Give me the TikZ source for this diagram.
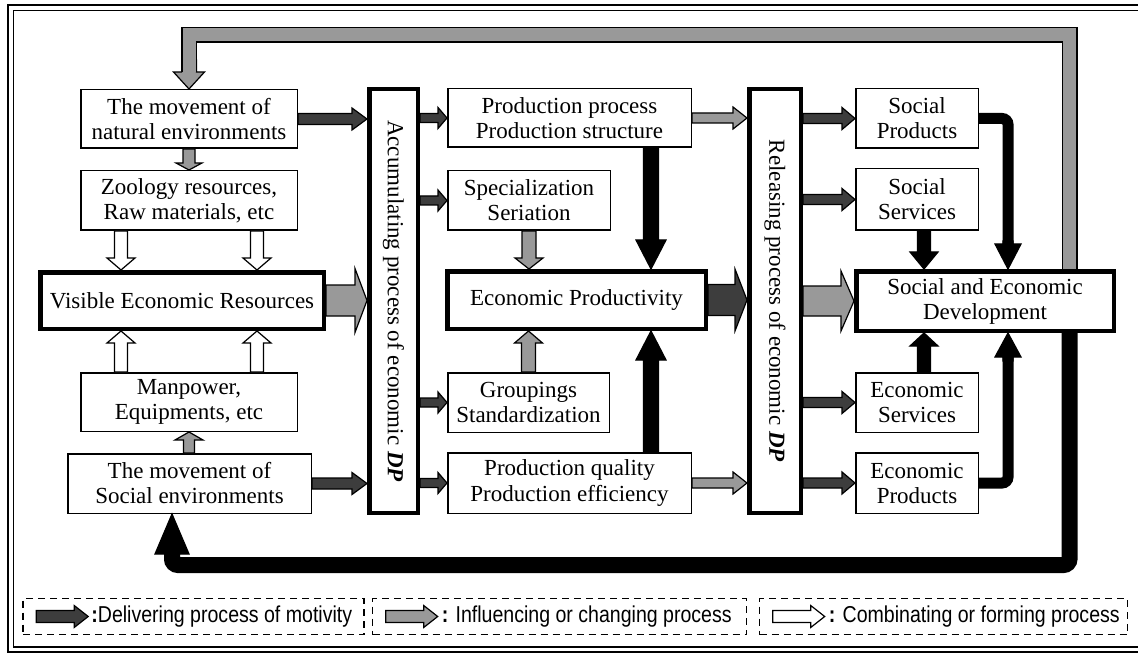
\documentclass[tikz,border=0pt]{standalone}
\usepackage{fontspec}
\setmainfont{Liberation Serif}
\newfontfamily\legfont[FakeStretch=0.85]{Liberation Sans}
\usetikzlibrary{calc}
\definecolor{dk}{gray}{0.24}
\definecolor{md}{gray}{0.6}
% #1 fill, #2 shaft half width, #3 head half width, #4 head length, #5 from, #6 to
\newcommand\blockarrow[6]{%
  \filldraw[fill=#1, line width=1.2pt, line join=miter]
    let \p1=#5, \p2=#6,
        \n1={veclen(\x2-\x1,\y2-\y1)},
        \n2={(\x2-\x1)/\n1},
        \n3={(\y2-\y1)/\n1} in
    ({\x1-\n3*#2},{\y1+\n2*#2})
    -- ({\x2-\n2*#4-\n3*#2},{\y2-\n3*#4+\n2*#2})
    -- ({\x2-\n2*#4-\n3*#3},{\y2-\n3*#4+\n2*#3})
    -- (\p2)
    -- ({\x2-\n2*#4+\n3*#3},{\y2-\n3*#4-\n2*#3})
    -- ({\x2-\n2*#4+\n3*#2},{\y2-\n3*#4-\n2*#2})
    -- ({\x1+\n3*#2},{\y1-\n2*#2}) -- cycle;}
\begin{document}
\begin{tikzpicture}[x=1pt,y=-1pt,
  box/.style={draw, line width=1.5pt, fill=white, inner sep=0pt, align=center,
    font=\fontsize{23}{25}\selectfont},
  tbox/.style={box, line width=4.5pt},
  coltext/.style={rotate=-90, inner sep=0pt, font=\fontsize{23}{25}\selectfont},
  legbox/.style={draw, dash pattern=on 7pt off 5pt, line width=1.6pt, inner sep=0pt},
  legtext/.style={anchor=west, inner sep=0pt, font=\legfont\fontsize{23}{25}\selectfont}]
\useasboundingbox (0,0) rectangle (1138,655);
\clip (0,0) rectangle (1138,655);
% frame
\draw[line width=1.5pt] (8,5) rectangle (1150,652);
\draw[line width=1.5pt] (13.5,10.5) rectangle (1150,647);

% left column
\node[box, minimum width=216.5pt, minimum height=58.5pt] (nat) at (189,119) {The movement of\\natural environments};
\node[box, minimum width=216.5pt, minimum height=59.5pt] (zoo) at (189,200.5) {Zoology resources,\\Raw materials, etc};
\node[tbox, minimum width=283.5pt, minimum height=56.5pt] (ver) at (182,300.5) {Visible Economic Resources};
\node[box, minimum width=216.5pt, minimum height=58.5pt] (man) at (189,402) {Manpower,\\Equipments, etc};
\node[box, minimum width=243.5pt, minimum height=59.5pt] (soc) at (189.5,483.5) {The movement of\\Social environments};

% accumulating column
\node[tbox, minimum width=48.5pt, minimum height=423.5pt] (acc) at (393.5,301) {};
\node[coltext] (acct) at (acc.center) {Accumulating process of economic \textbf{\textit{DP}}};

% middle column
\node[box, minimum width=243.5pt, minimum height=58.5pt] (pp) at (569.5,118) {Production process\\Production structure};
\node[box, minimum width=162.5pt, minimum height=59.5pt] (spe) at (529,200.5) {Specialization\\Seriation};
\node[tbox, minimum width=258.5pt, minimum height=57.5pt] (ecp) at (576.5,300) {Economic Productivity};
\node[box, minimum width=161.5pt, minimum height=59.5pt] (gro) at (528.5,402.5) {Groupings\\Standardization};
\node[box, minimum width=243.5pt, minimum height=60.5pt] (pq) at (569.5,483) {Production quality\\Production efficiency};

% releasing column
\node[tbox, minimum width=51.5pt, minimum height=423.5pt] (rel) at (775,301) {};
\node[coltext] (relt) at (rel.center) {Releasing process of economic \textbf{\textit{DP}}};

% right column
\node[box, minimum width=122.5pt, minimum height=59.5pt] (sp) at (917,118.5) {Social\\Products};
\node[box, minimum width=122.5pt, minimum height=61.5pt] (ss) at (917,199.5) {Social\\Services};
\node[tbox, minimum width=257.5pt, minimum height=59.5pt] (sed) at (985,301) {Social and Economic\\Development};
\node[box, minimum width=122.5pt, minimum height=59.5pt] (es) at (917,402.5) {Economic\\Services};
\node[box, minimum width=122.5pt, minimum height=60.5pt] (ep) at (917,483) {Economic\\Products};

% ---- dark (delivering) arrows
\blockarrow{dk}{5.5}{11}{15}{(nat.east)}{(nat.east -| acc.west)}
\blockarrow{dk}{5.5}{11}{15}{(soc.east)}{(soc.east -| acc.west)}
\blockarrow{dk}{4.5}{10.5}{9}{(pp.west -| acc.east)}{(pp.west)}
\blockarrow{dk}{4.5}{10.5}{9}{(spe.west -| acc.east)}{(spe.west)}
\blockarrow{dk}{4.5}{10.5}{9}{(gro.west -| acc.east)}{(gro.west)}
\blockarrow{dk}{4.5}{10.5}{9}{(pq.west -| acc.east)}{(pq.west)}
\blockarrow{dk}{5}{11}{13}{(sp.west -| rel.east)}{(sp.west)}
\blockarrow{dk}{5}{11}{13}{(ss.west -| rel.east)}{(ss.west)}
\blockarrow{dk}{5}{11}{13}{(es.west -| rel.east)}{(es.west)}
\blockarrow{dk}{5}{11}{13}{(ep.west -| rel.east)}{(ep.west)}
\blockarrow{dk}{15.5}{31}{12}{(ecp.east)}{(ecp.east -| rel.west)}

% ---- gray (influencing) arrows
\blockarrow{md}{15.5}{32}{12}{(ver.east)}{(ver.east -| acc.west)}
\blockarrow{md}{15}{30}{13}{(sed.west -| rel.east)}{(sed.west)}
\blockarrow{md}{5}{11}{14}{(pp.east)}{(pp.east -| rel.west)}
\blockarrow{md}{5}{11}{14}{(pq.east)}{(pq.east -| rel.west)}
\blockarrow{md}{6}{13}{7}{(nat.south)}{(zoo.north)}
\blockarrow{md}{5.5}{14}{8}{(soc.north -| man.south)}{(man.south)}
\blockarrow{md}{7}{14}{11}{(spe.south)}{(spe.south |- ecp.north)}
\blockarrow{md}{7}{14}{12}{(gro.north)}{(gro.north |- ecp.south)}

% ---- white (combinating) arrows
\coordinate (w1) at ([xshift=-68pt]zoo.south);
\coordinate (w2) at ([xshift=68pt]zoo.south);
\coordinate (w3) at ([xshift=-68pt]man.north);
\coordinate (w4) at ([xshift=68pt]man.north);
\blockarrow{white}{6.5}{14}{12}{(w1)}{(w1 |- ver.north)}
\blockarrow{white}{6.5}{14}{12}{(w2)}{(w2 |- ver.north)}
\blockarrow{white}{6.5}{14}{12}{(w3)}{(w3 |- ver.south)}
\blockarrow{white}{6.5}{14}{12}{(w4)}{(w4 |- ver.south)}

% ---- black arrows
\coordinate (b1) at ([xshift=81.5pt]pp.south);
\coordinate (b2) at ([xshift=81.5pt]pq.north);
\blockarrow{black}{7.5}{15}{29}{(b1)}{(b1 |- ecp.north)}
\blockarrow{black}{7.5}{15}{29}{(b2)}{(b2 |- ecp.south)}
\coordinate (b3) at ([xshift=7pt]ss.south);
\coordinate (b4) at ([xshift=7pt]es.north);
\blockarrow{black}{6.5}{14}{17}{(b3)}{(b3 |- sed.north)}
\blockarrow{black}{6.5}{14}{13}{(b4)}{(b4 |- sed.south)}

\coordinate (ex) at (1008,0);
\coordinate (t1) at (sed.north -| ex);
\coordinate (t2) at (sed.south -| ex);
\draw[line width=11pt, rounded corners=6pt] (sp.east) -| ([yshift=20pt]t1);
\blockarrow{black}{5}{13}{25}{([yshift=28pt]t1)}{(t1)}
\draw[line width=11pt, rounded corners=6pt] (ep.east) -| ([yshift=-20pt]t2);
\blockarrow{black}{5}{13}{24}{([yshift=-28pt]t2)}{(t2)}

% ---- big black loop
\coordinate (k0) at ([xshift=84.5pt]sed.south);
\coordinate (kc) at (172,565);
\coordinate (kh) at (172,556);
\draw[line width=16pt, rounded corners=6pt] (k0) |- (kc) -- (kh);
\blockarrow{black}{7.4}{17}{40}{(kh)}{(soc.south -| kc)}

% ---- big gray loop
\coordinate (g0) at ([xshift=84.5pt]sed.north);
\coordinate (gt) at (189,35);
\coordinate (gs) at (189,60);
\coordinate (gh) at (189,72);
\blockarrow{md}{7.4}{15.5}{17}{(gs)}{(nat.north -| gt)}
\draw[line width=16pt, line join=miter] (g0) |- (gt) -- (gh);
\draw[md, line width=13pt, line join=miter] (g0) |- (gt) -- (gh);

% ---- legend
\node[legbox, minimum width=341pt, minimum height=36pt] (la) at (193.5,616.5) {};
\blockarrow{dk}{6}{11}{14}{([xshift=14pt]la.west)}{([xshift=66pt]la.west)}
\node[legtext] (lta) at ([xshift=69pt]la.west) {\textbf{:}Delivering process of motivity};
\node[legbox, minimum width=374pt, minimum height=36pt] (lb) at (559.5,616.5) {};
\blockarrow{md}{6}{11}{14}{([xshift=14pt]lb.west)}{([xshift=66pt]lb.west)}
\node[legtext] (ltb) at ([xshift=70pt]lb.west) {\textbf{:} Influencing or changing process};
\node[legbox, minimum width=368pt, minimum height=36pt] (lc) at (943.5,616.5) {};
\blockarrow{white}{6}{11}{14}{([xshift=14pt]lc.west)}{([xshift=66pt]lc.west)}
\node[legtext] (ltc) at ([xshift=70pt]lc.west) {\textbf{:} Combinating or forming process};
\end{tikzpicture}
\end{document}
